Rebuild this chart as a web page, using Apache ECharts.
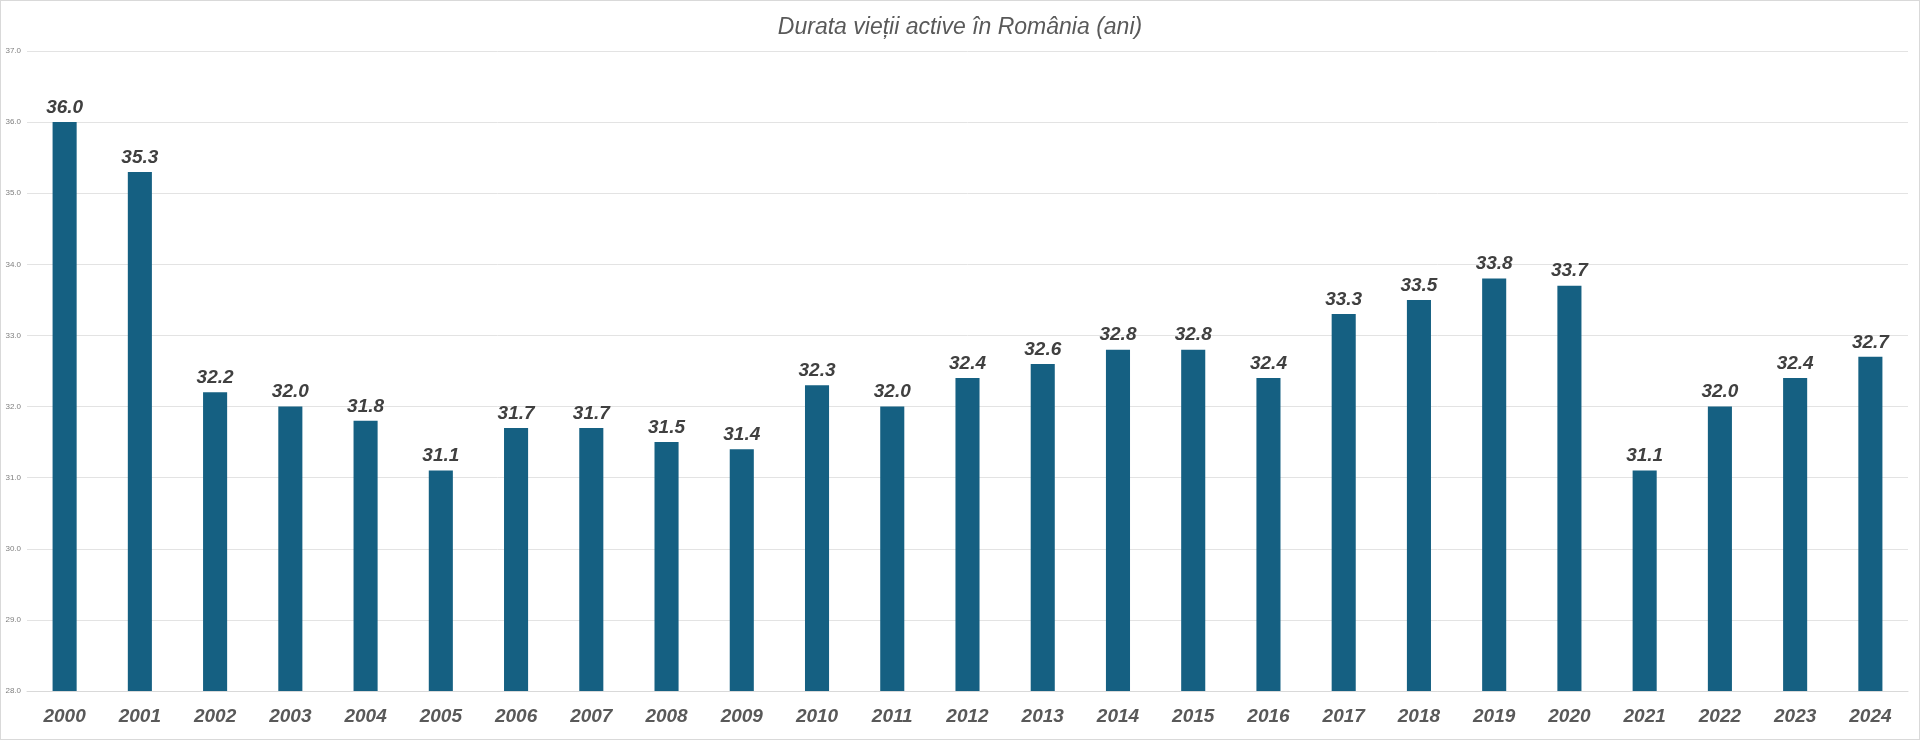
<!DOCTYPE html>
<html lang="en">
<head>
    <meta charset="UTF-8">
    <title>Durata vieții active în România</title>
    <style>
        * { margin: 0; padding: 0; }
        body { background: #fff; }
        #chart { width: 1918px; height: 738px; border: 1px solid #d9d9d9; }
    </style>
</head>
<body>
    <div id="chart"></div>
</body>
</html>
<script src="https://cdn.jsdelivr.net/npm/echarts@6/dist/echarts.min.js"></script>
<script>
    const years = ['2000', '2001', '2002', '2003', '2004', '2005', '2006', '2007', '2008', '2009', '2010', '2011', '2012',
        '2013', '2014', '2015', '2016', '2017', '2018', '2019', '2020', '2021', '2022', '2023', '2024'];
    const values = [36.0, 35.3, 32.2, 32.0, 31.8, 31.1, 31.7, 31.7, 31.5, 31.4, 32.3, 32.0, 32.4,
        32.6, 32.8, 32.8, 32.4, 33.3, 33.5, 33.8, 33.7, 31.1, 32.0, 32.4, 32.7];

    var myChart = echarts.init(document.getElementById('chart'));
    myChart.setOption({
        animation: false,
        title: {
            text: 'Durata vieții active în România (ani)',
            left: 'center',
            top: 10,
            textStyle: { fontFamily: 'Liberation Sans', fontStyle: 'italic', fontWeight: 'normal', fontSize: 23, color: '#595959' }
        },
        grid: { left: 26, right: 11, top: 50, bottom: 48 },
        xAxis: {
            type: 'category',
            data: years,
            axisLine: { lineStyle: { color: '#d9d9d9' } },
            axisTick: { show: false },
            axisLabel: { margin: 16, fontFamily: 'Liberation Sans', fontStyle: 'italic', fontWeight: 'bold', fontSize: 19, color: '#595959' }
        },
        yAxis: {
            type: 'value',
            min: 28,
            max: 37,
            interval: 1,
            axisLabel: { fontSize: 8, color: '#7f7f7f', margin: 6, formatter: v => v.toFixed(1) },
            splitLine: { lineStyle: { color: '#e3e3e3' } }
        },
        series: [{
            type: 'bar',
            data: values,
            barWidth: '32%',
            itemStyle: { color: '#156082' },
            label: {
                show: true,
                position: 'top',
                distance: 5,
                formatter: p => p.value.toFixed(1),
                fontFamily: 'Liberation Sans', fontStyle: 'italic', fontWeight: 'bold', fontSize: 19, color: '#404040'
            }
        }]
    });
</script>
